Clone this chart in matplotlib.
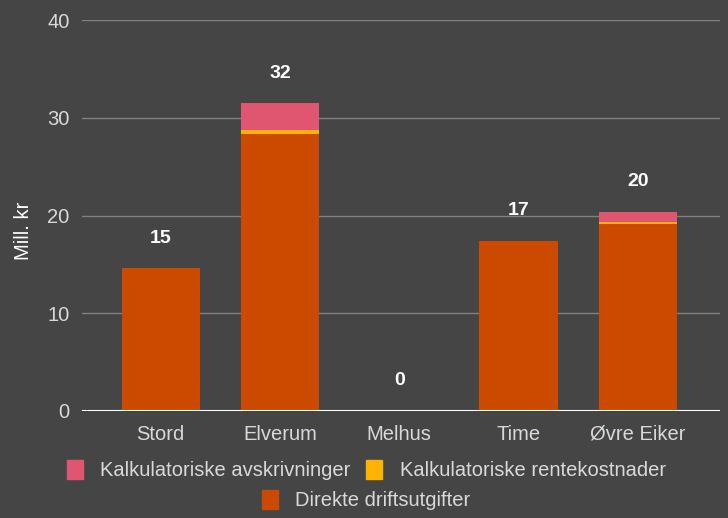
import matplotlib.pyplot as plt
import numpy as np

plt.rcParams['font.family'] = ['Liberation Sans', 'DejaVu Sans']

kommuner = ["Stord", "Elverum", "Melhus", "Time", "Øvre Eiker"]
direkte = [14.6, 28.3, 0.0, 17.4, 19.1]
renter = [0.0, 0.5, 0.0, 0.0, 0.2]
avskrivninger = [0.0, 2.7, 0.0, 0.0, 1.1]

BG = "#454545"
C_DIR = "#cc4a00"
C_RENTE = "#ffb300"
C_AVSK = "#e0556f"
TXT = "#d9d9d9"

fig = plt.figure(figsize=(7.28, 5.18), dpi=100, facecolor=BG)
ax = fig.add_axes([0.1126, 0.2066, 0.8764, 0.7545], facecolor=BG)

x = np.arange(len(kommuner))
w = 0.655
d = np.array(direkte)
r = np.array(renter)
a = np.array(avskrivninger)

ax.bar(x, d, w, color=C_DIR, zorder=3)
ax.bar(x, r, w, bottom=d, color=C_RENTE, zorder=3)
ax.bar(x, a, w, bottom=d + r, color=C_AVSK, zorder=3)

# totals above each stack
tot = d + r + a
for xi, t in zip(x, tot):
    ax.annotate(f"{t:.0f}", (xi, t), xytext=(0, 18.5), textcoords="offset points",
                ha="center", va="baseline", color="white", fontsize=14, fontweight="bold")

ax.set_ylim(0, 40)
ax.set_xlim(-0.66, 4.69)
ax.set_yticks([0, 10, 20, 30, 40])
ax.set_xticks(x)
ax.set_xticklabels(kommuner)
ax.grid(axis="y", color="#808080", linewidth=1, zorder=0)
ax.axhline(0, color="white", linewidth=1.5, zorder=4)
for s in ax.spines.values():
    s.set_visible(False)
ax.tick_params(length=0, colors=TXT, labelsize=14.5)
ax.tick_params(axis="y", pad=9)
ax.tick_params(axis="x", pad=10)
ax.set_ylabel("Mill. kr", color="white", fontsize=14.5)
ax.yaxis.set_label_coords(-0.076, 0.46)

h_avsk = plt.Rectangle((0, 0), 1, 1, color=C_AVSK)
h_rente = plt.Rectangle((0, 0), 1, 1, color=C_RENTE)
h_dir = plt.Rectangle((0, 0), 1, 1, color=C_DIR)
kw = dict(frameon=False, fontsize=14.5, labelcolor=TXT, handlelength=0.8,
          handleheight=1.1, handletextpad=0.85, borderaxespad=0)
fig.legend([h_avsk, h_rente], ["Kalkulatoriske avskrivninger", "Kalkulatoriske rentekostnader"],
           loc="center", bbox_to_anchor=(0.503, 0.093), ncol=2, columnspacing=0.8, **kw)
fig.legend([h_dir], ["Direkte driftsutgifter"], loc="center",
           bbox_to_anchor=(0.503, 0.035), **kw)

fig.savefig("out.png", dpi=100, facecolor=BG)
